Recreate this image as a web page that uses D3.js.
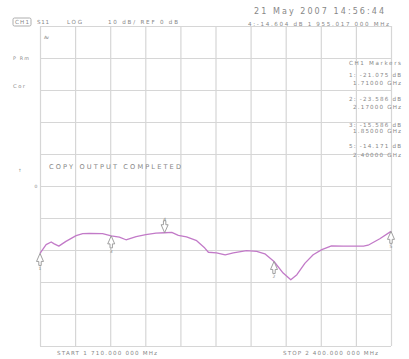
<!DOCTYPE html>
<html>
<head>
<meta charset="utf-8">
<script src="https://cdn.jsdelivr.net/npm/d3@7/dist/d3.min.js"></script>
<style>
  html, body { margin: 0; padding: 0; background: #fff; }
  svg { display: block; }
  text { font-family: "DejaVu Sans", sans-serif; fill: #878787; }
</style>
</head>
<body>
<svg id="chart" width="409" height="359"></svg>
<script>
// S11 trace, channel 1: frequency (MHz) and return loss (dB)
const freqMHz = [1710, 1722, 1732, 1738, 1747, 1761, 1781, 1794, 1807, 1833, 1850,
  1866, 1879, 1899, 1918, 1938, 1955, 1969, 1982, 1998, 2018, 2034, 2041, 2057,
  2074, 2090, 2116, 2136, 2152, 2170, 2188, 2203, 2215, 2231, 2247, 2264, 2283,
  2306, 2346, 2355, 2378, 2400];
const s11dB = [-21.075, -18.3, -17.5, -18.1, -18.8, -17.3, -15.5, -14.9, -14.8, -14.9, -15.586,
  -16.0, -16.8, -15.8, -15.2, -14.7, -14.604, -14.5, -15.4, -15.9, -17.1, -19.4, -20.7, -20.9,
  -21.5, -20.9, -20.2, -20.4, -21.2, -23.586, -27.2, -29.3, -27.7, -24.1, -21.5, -19.9, -18.7,
  -18.8, -18.8, -18.5, -16.5, -14.171];

// markers: id, frequency (MHz), value (dB)
const markerIds = ["1", "2", "3", "4", "5"];
const markerFreq = [1710, 2170, 1850, 1955, 2400];
const markerDb = [-21.075, -23.586, -15.586, -14.604, -14.171];
const activeMarker = "4";

// sweep and scale settings
const startMHz = 1710, stopMHz = 2400;
const refDb = 0, dbPerDiv = 10, divisions = 10;

const svg = d3.select("#chart");
const L = 40, R = 391, T = 26, B = 346;

const x = d3.scaleLinear().domain([startMHz, stopMHz]).range([L, R]);
const y = d3.scaleLinear()
  .domain([refDb - dbPerDiv * divisions / 2, refDb + dbPerDiv * divisions / 2])
  .range([B, T]);

const xTicks = d3.range(divisions + 1).map(i => startMHz + i * (stopMHz - startMHz) / divisions);
const yTicks = d3.range(divisions + 1).map(i => y.domain()[0] + i * dbPerDiv);

// graticule
const grid = svg.append("g");
grid.append("g")
  .attr("transform", `translate(0,${B})`)
  .call(d3.axisBottom(x).tickValues(xTicks).tickSize(-(B - T)).tickFormat(""))
  .call(g => g.select(".domain").remove());
grid.append("g")
  .attr("transform", `translate(${L},0)`)
  .call(d3.axisLeft(y).tickValues(yTicks).tickSize(-(R - L)).tickFormat(""))
  .call(g => g.select(".domain").remove());
grid.selectAll("line").attr("stroke", "#d6d6d6").attr("stroke-width", 1.2);

// trace
const pts = freqMHz.map((f, i) => [f, s11dB[i]]);
svg.append("path")
  .datum(pts)
  .attr("fill", "none")
  .attr("stroke", "#c27ac8")
  .attr("stroke-width", 1.3)
  .attr("stroke-linejoin", "round")
  .attr("d", d3.line().x(d => x(d[0])).y(d => y(d[1])));

// marker arrows
const mk = svg.append("g");
markerIds.forEach((id, i) => {
  const px = x(markerFreq[i]), py = y(markerDb[i]);
  const g = mk.append("g").attr("transform", `translate(${px},${py})`);
  const up = id !== activeMarker;
  const s = up ? 1 : -1;
  g.append("path")
    .attr("d", `M0,0 L-3.5,${s * 8} L-1.2,${s * 8} L-1.2,${s * 12} L1.2,${s * 12} L1.2,${s * 8} L3.5,${s * 8} Z`)
    .attr("fill", "#fff").attr("stroke", "#959595").attr("stroke-width", 0.9);
  g.append("text").attr("x", 0).attr("y", up ? 17 : -12)
    .attr("text-anchor", "middle").attr("font-size", 4.5).text(id);
});

// annotation text, spread letter by letter over its span
function label(t, x0, x1, yb, size) {
  return svg.append("text").attr("x", x0).attr("y", yb)
    .attr("font-size", size)
    .attr("textLength", x1 - x0).attr("lengthAdjust", "spacing")
    .text(t);
}

label("21 May 2007   14:56:44", 254, 384, 13.8, 8);
label("4:-14.604 dB   1 955.017 000 MHz", 248, 389, 25.5, 5.6);

svg.append("rect").attr("x", 13).attr("y", 18).attr("width", 18).attr("height", 8)
  .attr("rx", 1.5).attr("fill", "none").attr("stroke", "#9a9a9a").attr("stroke-width", 0.8);
label("CH1", 15, 29, 24.4, 5.6);
label("S11", 37, 49, 24.4, 5.6);
label("LOG", 67, 82, 24.4, 5.6);
label("10  dB/  REF  0  dB", 108, 178, 24.4, 5.6);
label("Av", 44, 49, 39, 4.5);
label("P Rm", 13, 29, 60, 4.8);
label("Cor", 13, 25, 88, 5.2);
label("↑", 18, 21, 172, 4.5);
label("0", 34.5, 37.5, 188, 4.5);

label("CH1 Markers", 349, 401, 65, 5.6);
const markerRows = [
  ["1: -21.075 dB", "1.71000 GHz", 76.5, 84.5],
  ["2: -23.586 dB", "2.17000 GHz", 101, 109],
  ["3: -15.586 dB", "1.85000 GHz", 126.5, 132.5],
  ["5: -14.171 dB", "2.40000 GHz", 148, 156.5]
];
markerRows.forEach(r => {
  label(r[0], 349, 401, r[2], 5.6);
  label(r[1], 353, 401, r[3], 5.6);
});

label("COPY  OUTPUT  COMPLETED", 49, 181, 168.5, 6.6);
label("START 1 710.000 000 MHz", 57, 157, 354.5, 5.6);
label("STOP 2 400.000 000 MHz", 283, 378, 354.5, 5.6);
</script>
</body>
</html>
